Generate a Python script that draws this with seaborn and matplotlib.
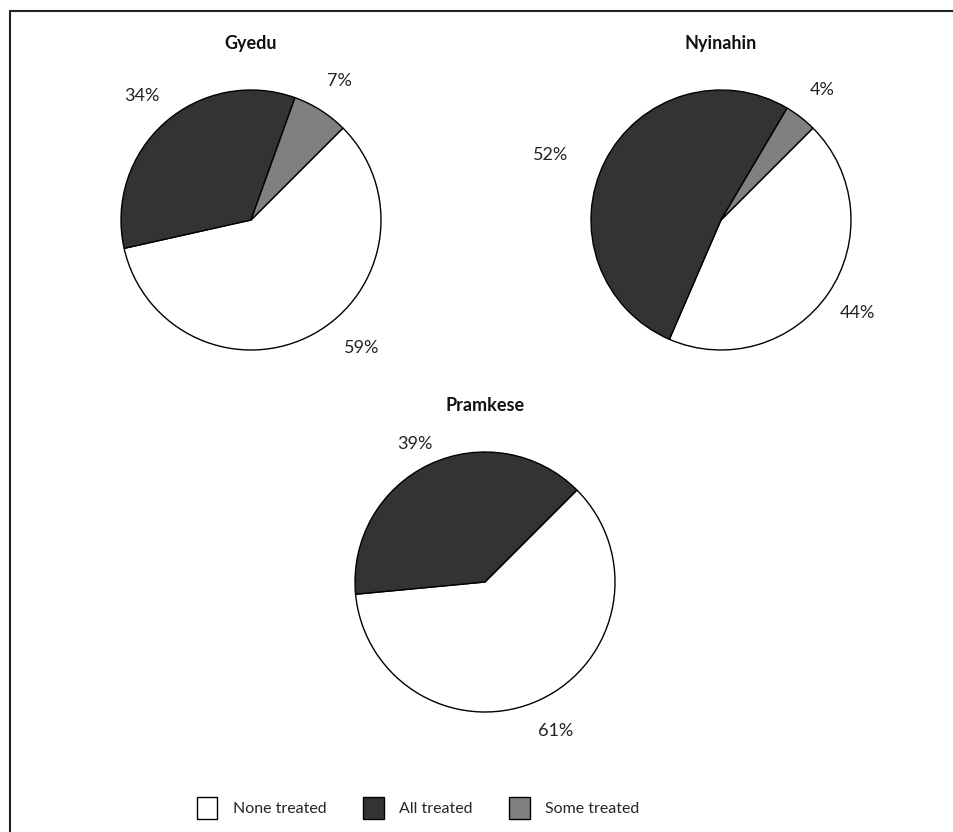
import numpy as np
import matplotlib
matplotlib.use("Agg")
import matplotlib.pyplot as plt
from matplotlib.lines import Line2D
from matplotlib.patches import Patch
import seaborn as sns

# DATA (percent of households)
SITES = ["Gyedu", "Nyinahin", "Pramkese"]
CATEGORIES = ["None treated", "All treated", "Some treated"]
GYEDU = [59, 34, 7]
NYINAHIN = [44, 52, 4]
PRAMKESE = [61, 39, 0]
COLORS = ["#ffffff", "#333333", "#808080"]

# label placement tweaks (angle in degrees, radius in pie units)
LABEL_TWEAKS = {
    ("Gyedu", "None treated"): (-49, 1.30),
    ("Nyinahin", "All treated"): (159, 1.40),
    ("Pramkese", "All treated"): (117, 1.19),
}

W, H = 954, 832
R_PX = 130
BOX = 400


def pie_axes(fig, cx, cy):
    """Axes of BOX px centred on a pixel position, with pie radius R_PX."""
    ax = fig.add_axes([(cx - BOX / 2) / W, 1 - (cy + BOX / 2) / H, BOX / W, BOX / H])
    ax.set_aspect("equal")
    ax.axis("off")
    return ax


def draw_pie(ax, site, values):
    keep = [i for i, v in enumerate(values) if v > 0]
    vals = [values[i] for i in keep]
    cols = [COLORS[i] for i in keep]
    cats = [CATEGORIES[i] for i in keep]
    wedges, _, autotexts = ax.pie(
        vals, colors=cols, startangle=45, counterclock=False, radius=1,
        autopct=lambda p: f"{p:.0f}%", pctdistance=1.27, frame=True,
        wedgeprops=dict(edgecolor="black", linewidth=1.0),
        textprops=dict(fontsize=13, color="#222222"),
    )
    for cat, txt in zip(cats, autotexts):
        if (site, cat) in LABEL_TWEAKS:
            ang, rad = LABEL_TWEAKS[(site, cat)]
            txt.set_position((rad * np.cos(np.radians(ang)), rad * np.sin(np.radians(ang))))
    ax.text(0, 1.36, site, ha="center", va="center", fontsize=13, fontweight="bold",
            color="#111111")
    lim = BOX / 2 / R_PX
    ax.set_xlim(-lim, lim)
    ax.set_ylim(-lim, lim)
    ax.axis("off")


sns.set_theme(style="white")
plt.rcParams["font.family"] = ["Lato", "DejaVu Sans"]

fig = plt.figure(figsize=(W / 100, H / 100), dpi=100)
fig.patch.set_facecolor("white")

centres = [(251, 220), (721, 220), (485, 582)]
for site, values, (cx, cy) in zip(SITES, [GYEDU, NYINAHIN, PRAMKESE], centres):
    ax = pie_axes(fig, cx, cy)
    draw_pie(ax, site, values)

# frame lines (left and top)
fig.add_artist(Line2D([10 / W, 10 / W], [0, 1 - 11 / H], color="#222222", lw=1.5))
fig.add_artist(Line2D([10 / W, 1], [1 - 11 / H, 1 - 11 / H], color="#222222", lw=1.5))

handles = [Patch(facecolor=c, edgecolor="black", linewidth=1.0) for c in COLORS]
fig.legend(
    handles, CATEGORIES, loc="center", bbox_to_anchor=(418 / W, 1 - 808 / H),
    ncol=3, frameon=False, fontsize=11.5, handlelength=1.3, handleheight=1.7,
    handletextpad=0.95, columnspacing=2.3,
)

fig.savefig("out.png", dpi=100, facecolor="white")
